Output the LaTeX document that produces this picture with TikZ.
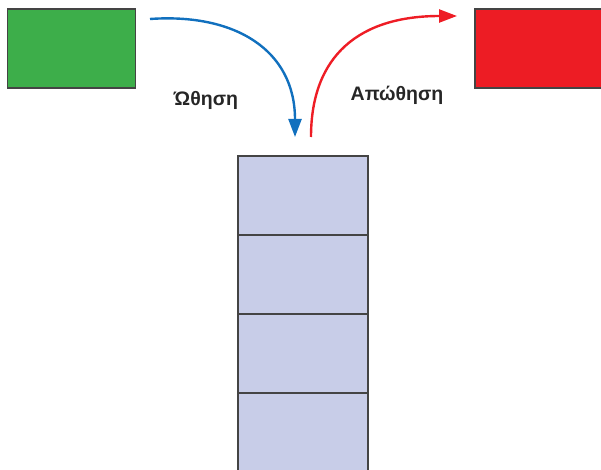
\documentclass[tikz,border=0pt]{standalone}
\usepackage{fontspec}
\setmainfont{Liberation Sans}
\usetikzlibrary{arrows.meta}
\definecolor{gbox}{HTML}{3DAE4A}
\definecolor{rbox}{HTML}{ED1C24}
\definecolor{cellfill}{HTML}{C8CDE8}
\definecolor{edge}{HTML}{444444}
\definecolor{barrow}{HTML}{1170BE}
\definecolor{rarrow}{HTML}{EE1D25}
\tikzset{
  box/.style={draw=edge, line width=1.4pt, minimum width=128pt, minimum height=79pt, inner sep=0pt, outer sep=0pt},
  cell/.style={draw=edge, fill=cellfill, line width=1.4pt, minimum width=130pt, minimum height=79pt, inner sep=0pt, outer sep=0pt},
  lbl/.style={font=\bfseries\fontsize{19.5}{23}\selectfont, text=black!85},
  curvearrow/.style={line width=2.4pt, -{Triangle[length=18pt,width=13pt]}}
}
\begin{document}
\begin{tikzpicture}[x=1pt,y=-1pt]
\useasboundingbox (0,0) rectangle (601,470);
\node[box, fill=gbox] (green) at (71.5,48.5) {};
\node[box, fill=rbox, minimum width=128pt] (red) at (539,48.5) {};
\node[cell] (c1) at (303,195.5) {};
\node[cell] (c2) at (303,274.5) {};
\node[cell] (c3) at (303,353.5) {};
\node[cell] (c4) at (303,432.5) {};
\coordinate (bs) at (150,19);
\coordinate (be) at (295,137);
\coordinate (rs) at (311,137);
\coordinate (re) at (457,16);
\draw[curvearrow, barrow] (bs) .. controls (235,13) and (295,50) .. (be);
\draw[curvearrow, rarrow] (rs) .. controls (311,55) and (360,16) .. (re);
\node[lbl] (push) at (206,100) {Ώθηση};
\node[lbl] (pop) at (397,95) {Απώθηση};
\end{tikzpicture}
\end{document}
